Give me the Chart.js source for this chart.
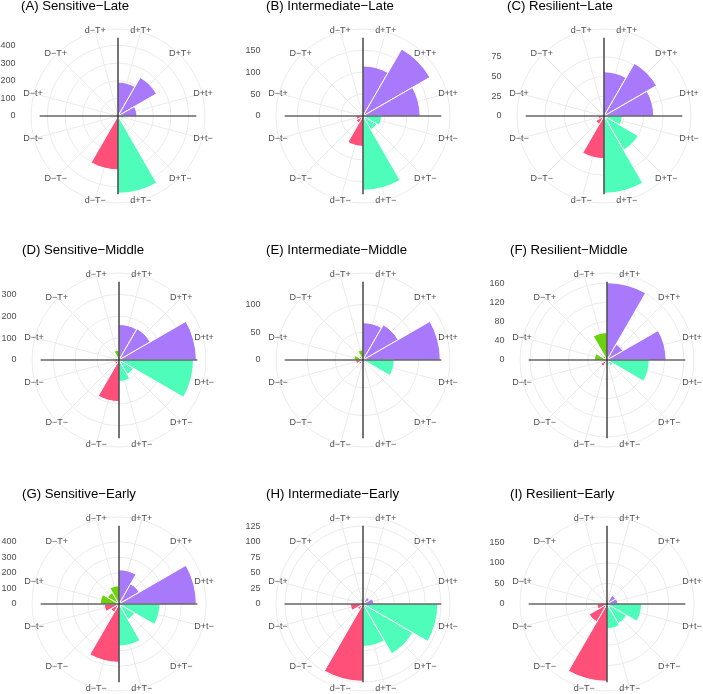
<!DOCTYPE html>
<html>
<head>
<meta charset="utf-8">
<script src="https://cdn.jsdelivr.net/npm/chart.js@4.4.1/dist/chart.umd.min.js"></script>
<style>
  html, body { margin: 0; padding: 0; background: #fff; }
  #wrap { position: relative; width: 703px; height: 694px; }
  #wrap canvas { position: absolute; left: 0; top: 0; }
</style>
</head>
<body>
<div id="wrap"></div>
<script>
// categories, clockwise from 12 o'clock
const categories = ["d+T+", "D+T+", "D+t+", "D+t−", "D+T−", "d+T−", "d−T−", "D−T−", "D−t−", "D−t+", "D−T+", "d−T+"];
const wedgeColors = [
  "#a87afb", "#a87afb", "#a87afb",
  "#4dfdb9", "#4dfdb9", "#4dfdb9",
  "#ff5079", "#ff5079", "#ff5079",
  "#6cd10e", "#6cd10e", "#6cd10e"
];

const titles = [
  "(A) Sensitive−Late", "(B) Intermediate−Late", "(C) Resilient−Late",
  "(D) Sensitive−Middle", "(E) Intermediate−Middle", "(F) Resilient−Middle",
  "(G) Sensitive−Early", "(H) Intermediate−Early", "(I) Resilient−Early"
];

// counts per category (same order as categories)
const sensitiveLate      = [192, 252, 107, 32, 20, 438, 305, 5, 3, 0, 0, 0];
const intermediateLate   = [114, 176, 130, 42, 36, 169, 69, 18, 15, 0, 0, 0];
const resilientLate      = [56, 77, 63, 23, 50, 98, 54, 12, 7, 0, 0, 0];
const sensitiveMiddle    = [162, 165, 353, 340, 76, 98, 190, 23, 20, 18, 10, 45];
const intermediateMiddle = [67, 73, 139, 56, 3, 2, 2, 8, 13, 16, 8, 18];
const resilientMiddle    = [161, 38, 123, 88, 14, 10, 5, 15, 8, 26, 10, 57];
const sensitiveEarly     = [220, 150, 497, 263, 115, 270, 375, 60, 94, 120, 85, 117];
const intermediateEarly  = [4, 12, 17, 120, 92, 68, 124, 10, 20, 0, 0, 8];
const resilientEarly     = [10, 24, 26, 84, 55, 60, 188, 50, 24, 3, 2, 10];

// radial axis tick labels per panel
const ticksA = [0, 100, 200, 300, 400];
const ticksB = [0, 50, 100, 150];
const ticksC = [0, 25, 50, 75];
const ticksD = [0, 100, 200, 300];
const ticksE = [0, 50, 100];
const ticksF = [0, 40, 80, 120, 160];
const ticksG = [0, 100, 200, 300, 400];
const ticksH = [0, 25, 50, 75, 100, 125];
const ticksI = [0, 50, 100, 150];

const panelValues = [sensitiveLate, intermediateLate, resilientLate,
  sensitiveMiddle, intermediateMiddle, resilientMiddle,
  sensitiveEarly, intermediateEarly, resilientEarly];
const panelTicks = [ticksA, ticksB, ticksC, ticksD, ticksE, ticksF, ticksG, ticksH, ticksI];

// layout: panel centres on the page
const W = 703, H = 694, RADIUS = 87;
const centres = [
  [118.5, 116.7], [363.3, 116.7], [604.7, 116.7],
  [119, 360.3], [363.3, 360.3], [607.7, 360.3],
  [119.5, 604.7], [363.3, 604.7], [607, 604.7]
];

const FONT = '"Liberation Sans", Arial, Helvetica, sans-serif';

const polarDecor = {
  id: "polarDecor",
  beforeDatasetsDraw(chart) {
    const r = chart.scales.r, ctx = chart.ctx;
    ctx.save();
    ctx.strokeStyle = "#ebebeb";
    ctx.lineWidth = 1;
    for (let i = 0; i < categories.length; i++) {
      const p = r.getPointPosition(i, r.drawingArea, Math.PI / categories.length);
      ctx.beginPath();
      ctx.moveTo(r.xCenter, r.yCenter);
      ctx.lineTo(p.x, p.y);
      ctx.stroke();
    }
    ctx.restore();
  },
  afterDatasetsDraw(chart, args, opts) {
    const r = chart.scales.r, ctx = chart.ctx;
    const cx = r.xCenter, cy = r.yCenter;
    ctx.save();

    // cross through the centre
    const len = r.getDistanceFromCenterForValue(opts.peak) + 1;
    ctx.strokeStyle = "#1a1a1a";
    ctx.lineWidth = 1.2;
    ctx.beginPath();
    ctx.moveTo(cx - len, cy); ctx.lineTo(cx + len, cy);
    ctx.moveTo(cx, cy - len); ctx.lineTo(cx, cy + len);
    ctx.stroke();

    // category labels
    ctx.fillStyle = "#4d4d4d";
    ctx.font = "9px " + FONT;
    ctx.textAlign = "center";
    ctx.textBaseline = "middle";
    for (let i = 0; i < categories.length; i++) {
      const p = r.getPointPosition(i, r.drawingArea + 1, Math.PI / categories.length);
      ctx.fillText(categories[i], p.x, p.y);
    }

    // radial axis labels on the left
    ctx.textAlign = "right";
    opts.ticks.forEach(v => {
      ctx.fillText(String(v), cx - 102.5, cy - r.getDistanceFromCenterForValue(v));
    });

    // title
    ctx.fillStyle = "#000";
    ctx.font = "13.2px " + FONT;
    ctx.textAlign = "left";
    ctx.fillText(opts.title, cx - 97, cy - 110);
    ctx.restore();
  }
};

const wrap = document.getElementById("wrap");

panelValues.forEach((values, k) => {
  const canvas = document.createElement("canvas");
  canvas.width = W;
  canvas.height = H;
  wrap.appendChild(canvas);
  const [cx, cy] = centres[k];
  const peak = Math.max(...values);
  const tickVals = panelTicks[k];

  new Chart(canvas, {
    type: "polarArea",
    data: {
      labels: categories,
      datasets: [{
        data: values,
        backgroundColor: wedgeColors,
        borderColor: "#ffffff",
        borderWidth: 1
      }]
    },
    options: {
      responsive: false,
      animation: false,
      layout: {
        padding: {
          left: cx - RADIUS,
          top: cy - RADIUS,
          right: W - cx - RADIUS,
          bottom: H - cy - RADIUS
        }
      },
      scales: {
        r: {
          min: 0,
          max: peak * 1.125,
          startAngle: 0,
          ticks: { display: false },
          grid: { color: "#ebebeb", lineWidth: 1, circular: true },
          angleLines: { display: false },
          pointLabels: { display: false },
          afterBuildTicks: (s) => {
            s.ticks = tickVals.map(v => ({ value: v })).concat([{ value: s.max }]);
          }
        }
      },
      plugins: {
        legend: { display: false },
        tooltip: { enabled: false },
        polarDecor: { title: titles[k], ticks: tickVals, peak: peak }
      }
    },
    plugins: [polarDecor]
  });
});
</script>
</body>
</html>
